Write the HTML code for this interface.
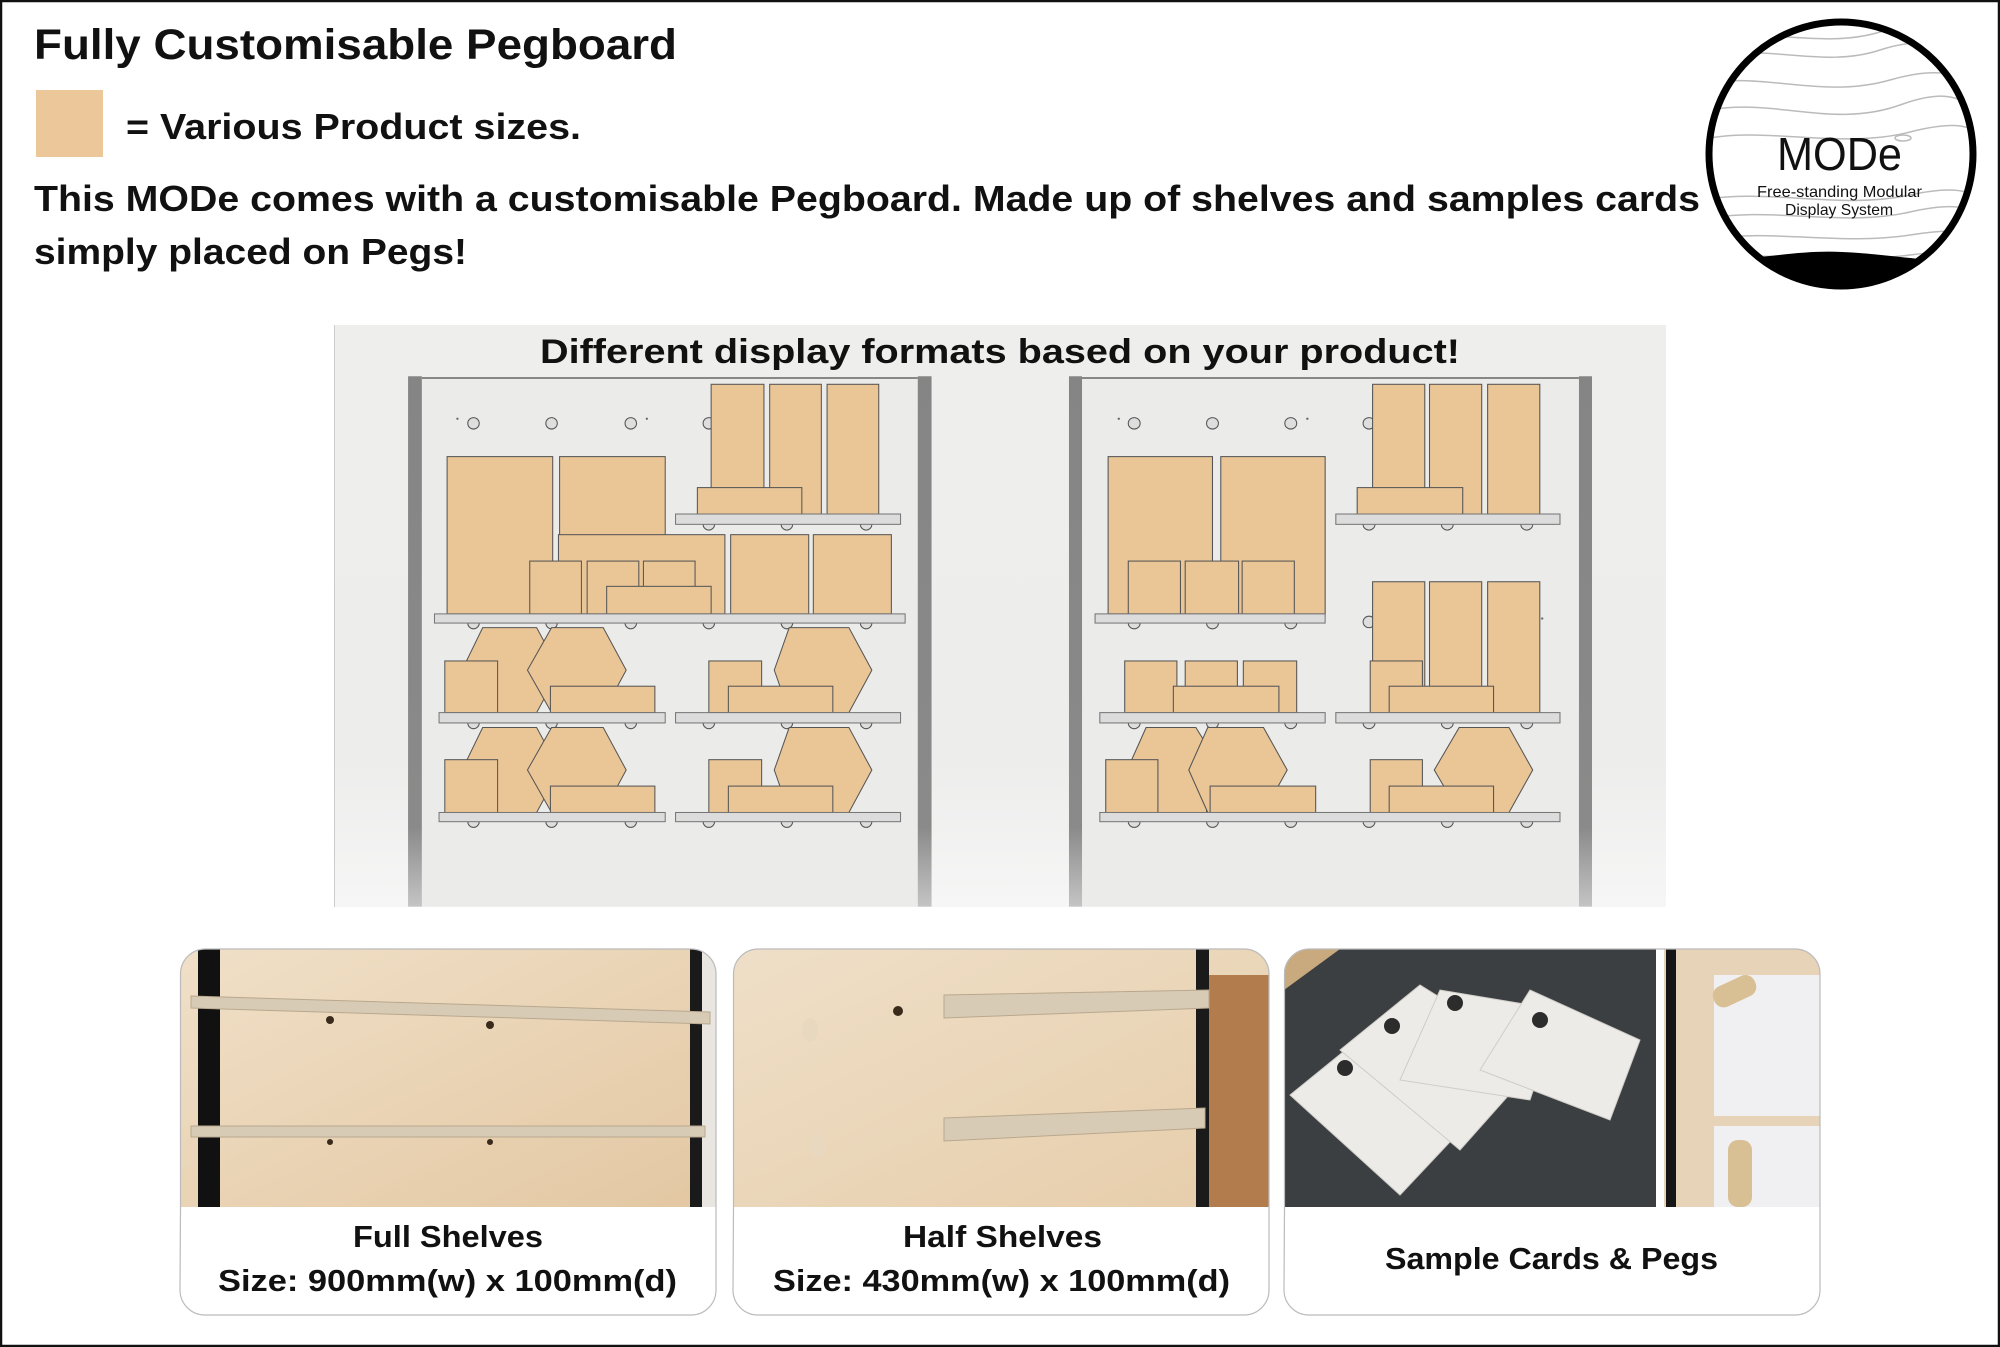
<!DOCTYPE html>
<html><head><meta charset="utf-8"><style>
html,body{margin:0;padding:0;background:#fff;}
svg{display:block;}
text{font-family:"Liberation Sans",sans-serif;font-weight:bold;fill:#111;}
</style></head><body>
<svg width="2000" height="1347" viewBox="0 0 2000 1347" xmlns="http://www.w3.org/2000/svg">
<defs>
<linearGradient id="panel" x1="0" y1="0" x2="0" y2="1"><stop offset="0" stop-color="#eeeeed"/><stop offset="0.75" stop-color="#ededec"/><stop offset="1" stop-color="#f6f6f6"/></linearGradient>
<linearGradient id="post" x1="0" y1="0" x2="0" y2="1"><stop offset="0" stop-color="#858585"/><stop offset="0.85" stop-color="#8a8a8a"/><stop offset="1" stop-color="#c4c4c4"/></linearGradient>
<linearGradient id="wood1" x1="0" y1="0" x2="1" y2="1"><stop offset="0" stop-color="#f0e0c8"/><stop offset="1" stop-color="#e3c7a2"/></linearGradient>
<linearGradient id="wood2" x1="0" y1="0" x2="1" y2="1"><stop offset="0" stop-color="#efdfc8"/><stop offset="1" stop-color="#e6cdaa"/></linearGradient>
<clipPath id="logo"><circle cx="1841" cy="154" r="132"/></clipPath>
<clipPath id="c1"><path d="M180,1207 V974 a25,25 0 0 1 25,-25 H691 a25,25 0 0 1 25,25 V1207 Z"/></clipPath>
<clipPath id="c2"><path d="M733,1207 V974 a25,25 0 0 1 25,-25 H1244 a25,25 0 0 1 25,25 V1207 Z"/></clipPath>
<clipPath id="c3"><path d="M1284,1207 V974 a25,25 0 0 1 25,-25 H1795 a25,25 0 0 1 25,25 V1207 Z"/></clipPath>
</defs>
<rect x="1" y="1" width="1998" height="1345" fill="#fff" stroke="#111" stroke-width="2.5"/>

<!-- header -->
<text x="34" y="59" font-size="43" textLength="643" lengthAdjust="spacingAndGlyphs">Fully Customisable Pegboard</text>
<rect x="36" y="90" width="67" height="67" fill="#ecc799"/>
<text x="126" y="139" font-size="36" textLength="455" lengthAdjust="spacingAndGlyphs">= Various Product sizes.</text>
<text x="34" y="211" font-size="36" textLength="1666" lengthAdjust="spacingAndGlyphs">This MODe comes with a customisable Pegboard. Made up of shelves and samples cards</text>
<text x="34" y="264" font-size="36" textLength="433" lengthAdjust="spacingAndGlyphs">simply placed on Pegs!</text>

<!-- logo -->
<g clip-path="url(#logo)" fill="none" stroke="#bbb" stroke-width="1.5">
<path d="M1700,40 C1760,25 1820,50 1880,32 S1960,40 1990,25"/>
<path d="M1700,60 C1760,40 1820,70 1880,50 S1960,60 1990,40"/>
<path d="M1700,85 C1760,70 1820,100 1890,80 S1960,90 1990,70"/>
<path d="M1700,112 C1770,95 1830,130 1900,105 S1960,118 1990,100"/>
<path d="M1700,140 C1760,125 1840,150 1910,132 S1970,140 1990,130"/>
<path d="M1700,200 C1770,188 1840,210 1910,195 S1970,205 1990,192"/>
<path d="M1700,220 C1770,205 1840,228 1910,212 S1970,222 1990,210"/>
<path d="M1700,240 C1770,228 1840,246 1910,235 S1970,240 1990,232"/>
<path d="M1700,260 C1770,250 1840,264 1910,255 S1970,258 1990,250"/>
<ellipse cx="1903" cy="138" rx="8" ry="3"/>
</g>
<path clip-path="url(#logo)" d="M1700,262 C1770,258 1800,250 1842,252 C1890,254 1920,262 1990,262 V300 H1700 Z" fill="#000"/>
<circle cx="1841" cy="154" r="132" fill="none" stroke="#000" stroke-width="7"/>
<text x="1777" y="170" font-size="46" textLength="125" lengthAdjust="spacingAndGlyphs" style="font-weight:normal">MODe</text>
<text x="1757" y="197" font-size="16" textLength="165" lengthAdjust="spacingAndGlyphs" style="font-weight:normal">Free-standing Modular</text>
<text x="1785" y="215" font-size="16" textLength="108" lengthAdjust="spacingAndGlyphs" style="font-weight:normal">Display System</text>

<!-- diagram panel -->
<rect x="334" y="325" width="1332" height="582" fill="url(#panel)"/>
<line x1="334.5" y1="325" x2="334.5" y2="907" stroke="#ccc"/>
<text x="540" y="363" font-size="34" textLength="920" lengthAdjust="spacingAndGlyphs">Different display formats based on your product!</text>

<g stroke="#555" stroke-width="0.9">
<!-- LEFT BOARD -->
<g transform="translate(330,320) scale(1.148) translate(-330,-320)">
<rect x="410" y="370" width="432" height="461" fill="#ebecea" stroke="none"/>
<line x1="410" y1="370.5" x2="842" y2="370.5" stroke="#222"/>
<rect x="398" y="369" width="12" height="462" fill="url(#post)" stroke="none"/>
<rect x="842" y="369" width="12" height="462" fill="url(#post)" stroke="none"/>
<g fill="#dedede"><circle cx="455" cy="410" r="5"/><circle cx="523" cy="410" r="5"/><circle cx="592" cy="410" r="5"/><circle cx="660" cy="410" r="5"/></g>
<g fill="#666" stroke="none"><circle cx="441" cy="406" r="1"/><circle cx="606" cy="406" r="1"/></g>
<g fill="#dedede">
<path d="M655,498 a5,5 0 0 0 10,0"/><path d="M723,498 a5,5 0 0 0 10,0"/><path d="M792,498 a5,5 0 0 0 10,0"/>
<path d="M450,584 a5,5 0 0 0 10,0"/><path d="M518,584 a5,5 0 0 0 10,0"/><path d="M587,584 a5,5 0 0 0 10,0"/><path d="M655,584 a5,5 0 0 0 10,0"/><path d="M723,584 a5,5 0 0 0 10,0"/><path d="M792,584 a5,5 0 0 0 10,0"/>
<path d="M450,671 a5,5 0 0 0 10,0"/><path d="M518,671 a5,5 0 0 0 10,0"/><path d="M587,671 a5,5 0 0 0 10,0"/><path d="M655,671 a5,5 0 0 0 10,0"/><path d="M723,671 a5,5 0 0 0 10,0"/><path d="M792,671 a5,5 0 0 0 10,0"/>
<path d="M450,757 a5,5 0 0 0 10,0"/><path d="M518,757 a5,5 0 0 0 10,0"/><path d="M587,757 a5,5 0 0 0 10,0"/><path d="M655,757 a5,5 0 0 0 10,0"/><path d="M723,757 a5,5 0 0 0 10,0"/><path d="M792,757 a5,5 0 0 0 10,0"/>
</g>
<g fill="#eac596">
<rect x="662" y="376" width="46" height="113"/><rect x="713" y="376" width="45" height="113"/><rect x="763" y="376" width="45" height="113"/>
<rect x="650" y="466" width="91" height="23"/>
<rect x="530" y="439" width="92" height="137"/><rect x="432" y="439" width="92" height="137"/>
<rect x="529" y="507" width="145" height="69"/>
<rect x="679" y="507" width="68" height="69"/><rect x="751" y="507" width="68" height="69"/>
<rect x="504" y="530" width="45" height="46"/><rect x="554" y="530" width="45" height="46"/><rect x="603" y="530" width="45" height="46"/>
<rect x="571" y="552" width="91" height="24"/>
<polygon points="463,588 510,588 530,625 510,662 463,662 445,625"/>
<polygon points="523,588 568,588 588,625 568,662 523,662 502,625"/>
<rect x="430" y="617" width="46" height="45"/>
<rect x="522" y="639" width="91" height="23"/>
<polygon points="730,588 782,588 802,625 782,662 730,662 717,625"/>
<rect x="660" y="617" width="46" height="45"/>
<rect x="677" y="639" width="91" height="23"/>
<polygon points="463,675 510,675 530,712 510,749 463,749 445,712"/>
<polygon points="523,675 568,675 588,712 568,749 523,749 502,712"/>
<rect x="430" y="703" width="46" height="46"/>
<rect x="522" y="726" width="91" height="23"/>
<polygon points="730,675 782,675 802,712 782,749 730,749 717,712"/>
<rect x="660" y="703" width="46" height="46"/>
<rect x="677" y="726" width="91" height="23"/>
</g>
<g fill="#dcdcdc" stroke="#777">
<rect x="631" y="489" width="196" height="9"/>
<rect x="421" y="576" width="410" height="8"/>
<rect x="425" y="662" width="197" height="9"/><rect x="631" y="662" width="196" height="9"/>
<rect x="425" y="749" width="197" height="8"/><rect x="631" y="749" width="196" height="8"/>
</g>
</g>

<!-- RIGHT BOARD -->
<g transform="translate(1050,320) scale(1.186,1.148) translate(-1050,-320)">
<rect x="1077" y="370" width="419" height="461" fill="#ebecea" stroke="none"/>
<line x1="1077" y1="370.5" x2="1496" y2="370.5" stroke="#222"/>
<rect x="1066" y="369" width="11" height="462" fill="url(#post)" stroke="none"/>
<rect x="1496" y="369" width="11" height="462" fill="url(#post)" stroke="none"/>
<g fill="#dedede"><circle cx="1121" cy="410" r="5"/><circle cx="1187" cy="410" r="5"/><circle cx="1253" cy="410" r="5"/><circle cx="1319" cy="410" r="5"/><circle cx="1319" cy="583" r="5"/></g>
<g fill="#666" stroke="none"><circle cx="1108" cy="406" r="1"/><circle cx="1267" cy="406" r="1"/><circle cx="1465" cy="580" r="1"/></g>
<g fill="#dedede">
<path d="M1314,498 a5,5 0 0 0 10,0"/><path d="M1380,498 a5,5 0 0 0 10,0"/><path d="M1447,498 a5,5 0 0 0 10,0"/>
<path d="M1116,584 a5,5 0 0 0 10,0"/><path d="M1182,584 a5,5 0 0 0 10,0"/><path d="M1248,584 a5,5 0 0 0 10,0"/>
<path d="M1116,671 a5,5 0 0 0 10,0"/><path d="M1182,671 a5,5 0 0 0 10,0"/><path d="M1248,671 a5,5 0 0 0 10,0"/><path d="M1314,671 a5,5 0 0 0 10,0"/><path d="M1380,671 a5,5 0 0 0 10,0"/><path d="M1447,671 a5,5 0 0 0 10,0"/>
<path d="M1116,757 a5,5 0 0 0 10,0"/><path d="M1182,757 a5,5 0 0 0 10,0"/><path d="M1248,757 a5,5 0 0 0 10,0"/><path d="M1314,757 a5,5 0 0 0 10,0"/><path d="M1380,757 a5,5 0 0 0 10,0"/><path d="M1447,757 a5,5 0 0 0 10,0"/>
</g>
<g fill="#eac596">
<rect x="1099" y="439" width="88" height="137"/><rect x="1194" y="439" width="88" height="137"/>
<rect x="1116" y="530" width="44" height="46"/><rect x="1164" y="530" width="45" height="46"/><rect x="1212" y="530" width="44" height="46"/>
<rect x="1322" y="376" width="44" height="113"/><rect x="1370" y="376" width="44" height="113"/><rect x="1419" y="376" width="44" height="113"/>
<rect x="1309" y="466" width="89" height="23"/>
<rect x="1322" y="548" width="44" height="114"/><rect x="1370" y="548" width="44" height="114"/><rect x="1419" y="548" width="44" height="114"/>
<rect x="1320" y="617" width="44" height="45"/>
<rect x="1336" y="639" width="88" height="23"/>
<rect x="1113" y="617" width="44" height="45"/><rect x="1164" y="617" width="44" height="45"/><rect x="1213" y="617" width="45" height="45"/>
<rect x="1154" y="639" width="89" height="23"/>
<polygon points="1131,675 1173,675 1182,690 1182,749 1131,749 1115,712"/>
<polygon points="1183,675 1230,675 1250,712 1230,749 1183,749 1167,712"/>
<rect x="1097" y="703" width="44" height="46"/>
<rect x="1185" y="726" width="89" height="23"/>
<polygon points="1395,675 1437,675 1457,712 1437,749 1395,749 1374,712"/>
<rect x="1320" y="703" width="44" height="46"/>
<rect x="1336" y="726" width="88" height="23"/>
</g>
<g fill="#dcdcdc" stroke="#777">
<rect x="1291" y="489" width="189" height="9"/>
<rect x="1088" y="576" width="194" height="8"/>
<rect x="1092" y="662" width="190" height="9"/><rect x="1291" y="662" width="189" height="9"/>
<rect x="1092" y="749" width="388" height="8"/>
</g>
</g>
</g>

<!-- CARD 1 -->
<g clip-path="url(#c1)">
<rect x="180" y="949" width="536" height="258" fill="url(#wood1)"/>
<rect x="198" y="949" width="22" height="258" fill="#111"/>
<rect x="690" y="949" width="12" height="258" fill="#1a1a1a"/>
<rect x="702" y="949" width="14" height="258" fill="#e9e6e2"/>
<polygon points="191,996 710,1012 710,1024 191,1008" fill="#d8cbb5" stroke="#b9a88e"/>
<polygon points="191,1126 705,1126 705,1137 191,1137" fill="#d8cbb5" stroke="#b9a88e"/>
<g fill="#3a2a1c"><circle cx="330" cy="1020" r="4"/><circle cx="490" cy="1025" r="4"/><circle cx="330" cy="1142" r="3"/><circle cx="490" cy="1142" r="3"/></g>
</g>
<path d="M180.5,1207 V974 a25,25 0 0 1 25,-25 H691 a25,25 0 0 1 25,25 V1290 a25,25 0 0 1 -25,25 H205 a25,25 0 0 1 -25,-25 Z" fill="none" stroke="#bbb" stroke-width="1.2"/>
<text x="353" y="1247" font-size="31" textLength="190" lengthAdjust="spacingAndGlyphs">Full Shelves</text>
<text x="218" y="1291" font-size="31" textLength="459" lengthAdjust="spacingAndGlyphs">Size: 900mm(w) x 100mm(d)</text>

<!-- CARD 2 -->
<g clip-path="url(#c2)">
<rect x="733" y="949" width="536" height="258" fill="url(#wood2)"/>
<rect x="1196" y="949" width="13" height="258" fill="#1a1a1a"/>
<rect x="1209" y="975" width="60" height="232" fill="#b27c4c"/>
<polygon points="944,995 1209,990 1209,1008 944,1018" fill="#d8cbb5" stroke="#b9a88e"/>
<polygon points="944,1118 1205,1108 1205,1128 944,1141" fill="#d8cbb5" stroke="#b9a88e"/>
<circle cx="898" cy="1011" r="5" fill="#3a2a1c"/>
<ellipse cx="810" cy="1030" rx="8" ry="12" fill="#e8d8c0"/>
<ellipse cx="818" cy="1146" rx="8" ry="12" fill="#e8d8c0"/>
</g>
<path d="M733.5,1207 V974 a25,25 0 0 1 25,-25 H1244 a25,25 0 0 1 25,25 V1290 a25,25 0 0 1 -25,25 H758 a25,25 0 0 1 -25,-25 Z" fill="none" stroke="#bbb" stroke-width="1.2"/>
<text x="903" y="1247" font-size="31" textLength="199" lengthAdjust="spacingAndGlyphs">Half Shelves</text>
<text x="773" y="1291" font-size="31" textLength="457" lengthAdjust="spacingAndGlyphs">Size: 430mm(w) x 100mm(d)</text>

<!-- CARD 3 -->
<g clip-path="url(#c3)">
<rect x="1284" y="949" width="372" height="258" fill="#3c3f41"/>
<polygon points="1284,949 1340,949 1284,990" fill="#c9a97e"/>
<g fill="#ecebe8" stroke="#cfcdc8">
<polygon points="1290,1095 1370,1030 1480,1110 1400,1195"/>
<polygon points="1340,1050 1420,985 1540,1060 1460,1150"/>
<polygon points="1400,1080 1440,990 1560,1010 1530,1100"/>
<polygon points="1480,1070 1530,990 1640,1040 1610,1120"/>
</g>
<g fill="#2c2c2c"><circle cx="1345" cy="1068" r="8"/><circle cx="1392" cy="1026" r="8"/><circle cx="1455" cy="1003" r="8"/><circle cx="1540" cy="1020" r="8"/></g>
<rect x="1656" y="949" width="8" height="258" fill="#fff"/>
<rect x="1664" y="949" width="156" height="258" fill="#e6d3b8"/>
<rect x="1666" y="949" width="10" height="258" fill="#161616"/>
<rect x="1714" y="975" width="106" height="141" fill="#f0f0f2"/>
<rect x="1714" y="1126" width="106" height="81" fill="#f0f0f2"/>
<rect x="1712" y="980" width="45" height="22" rx="10" fill="#d9bf94" transform="rotate(-25 1735 991)"/>
<rect x="1728" y="1140" width="24" height="67" rx="10" fill="#d9bf94"/>
</g>
<path d="M1284.5,1207 V974 a25,25 0 0 1 25,-25 H1795 a25,25 0 0 1 25,25 V1290 a25,25 0 0 1 -25,25 H1309 a25,25 0 0 1 -25,-25 Z" fill="none" stroke="#bbb" stroke-width="1.2"/>
<text x="1385" y="1269" font-size="31" textLength="333" lengthAdjust="spacingAndGlyphs">Sample Cards &amp; Pegs</text>
</svg>
</body></html>
